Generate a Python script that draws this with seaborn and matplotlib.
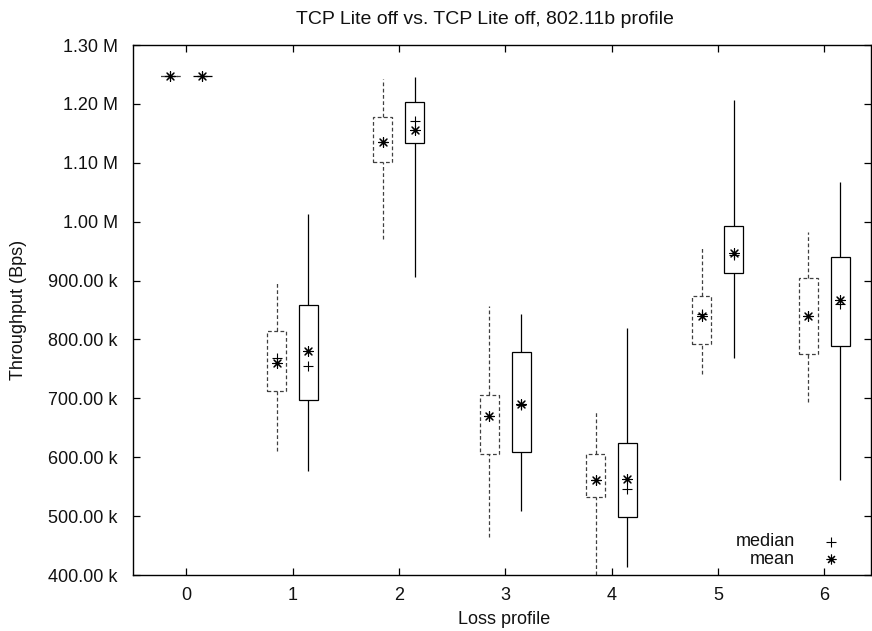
import matplotlib
matplotlib.use("Agg")
import matplotlib.pyplot as plt
from matplotlib.transforms import IdentityTransform
import seaborn as sns
import numpy as np
import pandas as pd
from matplotlib.ticker import FuncFormatter

# Data (values in kBps)
profiles = [0, 1, 2, 3, 4, 5, 6]

a_wlo  = [1248, 610, 970, 465, 390, 742, 693]
a_q1   = [1248, 713, 1102, 605, 533, 792, 775]
a_q3   = [1248, 814, 1178, 706, 606, 873, 905]
a_whi  = [1248, 897, 1243, 856, 676, 959, 983]
a_med  = [1248, 768, 1136, 670, 561, 843, 840]
a_mean = [1248, 760, 1136, 670, 561, 840, 840]

b_wlo  = [1248, 577, 906, 509, 414, 768, 561]
b_q1   = [1248, 698, 1134, 609, 499, 912, 789]
b_q3   = [1248, 858, 1204, 778, 624, 993, 940]
b_whi  = [1248, 1013, 1245, 843, 819, 1207, 1068]
b_med  = [1248, 755, 1171, 688, 546, 943, 860]
b_mean = [1248, 781, 1156, 691, 563, 947, 867]

title = "TCP Lite off vs. TCP Lite off, 802.11b profile"
xlabel = "Loss profile"
ylabel = "Throughput (Bps)"

sns.set_theme(style="ticks")
plt.rcParams['font.family'] = ['Liberation Sans', 'DejaVu Sans']
FS = 13
TXT = '#111111'

fig = plt.figure(figsize=(8.72, 6.31), dpi=100)
W, H = 872, 631
ax = fig.add_axes([133 / W, 1 - 575 / H, (871 - 133) / W, (575 - 45) / H])

def build(offset, wlo, q1, q3, whi, med, mean):
    return pd.DataFrame({
        "x": np.array(profiles) + offset,
        "wlo": np.array(wlo) * 1000.0, "q1": np.array(q1) * 1000.0,
        "q3": np.array(q3) * 1000.0, "whi": np.array(whi) * 1000.0,
        "med": np.array(med) * 1000.0, "mean": np.array(mean) * 1000.0,
    })

dfa = build(-0.15, a_wlo, a_q1, a_q3, a_whi, a_med, a_mean)
dfb = build(0.15, b_wlo, b_q1, b_q3, b_whi, b_med, b_mean)

bw = 0.18
for df, col, ls in [(dfa, '0.25', (0, (3, 2))), (dfb, 'black', '-')]:
    ax.bar(df["x"], df["q3"] - df["q1"], bottom=df["q1"], width=bw,
           fill=False, edgecolor=col, linewidth=0.9, linestyle=ls, zorder=2)
    ax.vlines(df["x"], df["wlo"], df["q1"], colors=col, linewidth=0.9, linestyles=ls, zorder=2)
    ax.vlines(df["x"], df["q3"], df["whi"], colors=col, linewidth=0.9, linestyles=ls, zorder=2)
    sns.scatterplot(data=df, x="x", y="med", marker='+', s=50, color='black',
                    linewidth=0.8, ax=ax, zorder=3, legend=False)
    sns.scatterplot(data=df, x="x", y="mean", marker=(8, 2, 0), s=50, color='black',
                    linewidth=0.8, ax=ax, zorder=3, legend=False)

ax.set_xlim(-0.5, 6.44)
ax.set_ylim(400000, 1300000)
ax.set_xticks(profiles)
ax.set_yticks(np.arange(400000, 1300001, 100000))

def fmt(v, pos):
    if v >= 1e6:
        return f"{v/1e6:.2f} M"
    return f"{v/1e3:.2f} k"
ax.yaxis.set_major_formatter(FuncFormatter(fmt))

ax.tick_params(direction='in', length=5, width=0.9, top=True, right=True,
               labelsize=FS, colors='black', labelcolor=TXT)
ax.tick_params(axis='y', pad=11)
ax.tick_params(axis='x', pad=9)
for sp in ax.spines.values():
    sp.set_linewidth(1.0)
    sp.set_color('black')
ax.set_xlabel("")
ax.set_ylabel("")

ident = IdentityTransform()
fig.text(485, H - 20, title, transform=ident, ha='center', va='center', fontsize=14, color=TXT)
fig.text(504, H - 619, xlabel, transform=ident, ha='center', va='center', fontsize=FS, color=TXT)
fig.text(19, H - 310, ylabel, transform=ident, ha='center', va='center',
         rotation=90, fontsize=FS, color=TXT)

# legend (gnuplot style)
fig.text(795, H - 541.7, "median", transform=ident, ha='right', va='center', fontsize=FS, color=TXT)
fig.text(795, H - 559.3, "mean", transform=ident, ha='right', va='center', fontsize=FS, color=TXT)
lx = 831
ax.plot([lx], [H - 541.7], marker='+', ms=7, mew=0.8, color='black',
        transform=ident, clip_on=False)
ax.plot([lx], [H - 559.3], marker=(8, 2, 0), ms=7, mew=0.8, color='black',
        transform=ident, clip_on=False)

fig.savefig("out.png", dpi=100)
